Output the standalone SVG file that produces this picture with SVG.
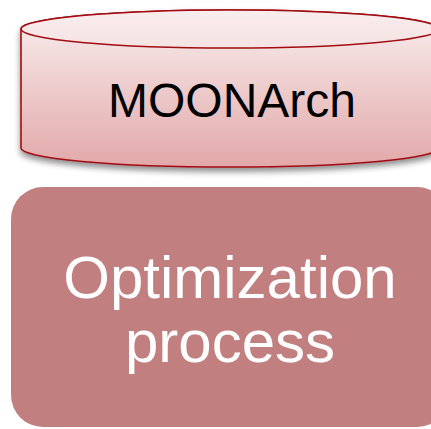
<svg xmlns="http://www.w3.org/2000/svg" width="431" height="429" viewBox="0 0 431 429">
<defs>
<linearGradient id="body" x1="0" y1="0" x2="0" y2="1">
<stop offset="0" stop-color="#f9efef"/>
<stop offset="1" stop-color="#e2a8a9"/>
</linearGradient>
<linearGradient id="top" x1="0" y1="0" x2="0" y2="1">
<stop offset="0" stop-color="#f9eded"/>
<stop offset="1" stop-color="#f5e3e3"/>
</linearGradient>
<filter id="shadow" x="-10%" y="-10%" width="120%" height="140%">
<feGaussianBlur in="SourceAlpha" stdDeviation="3"/>
<feOffset dx="0" dy="4" result="b"/>
<feComponentTransfer><feFuncA type="linear" slope="0.45"/></feComponentTransfer>
<feMerge><feMergeNode/><feMergeNode in="SourceGraphic"/></feMerge>
</filter>
</defs>
<style>
.cyl{stroke:#a00d12;stroke-width:1.6}
.t1{font-family:"Liberation Sans",Arial,sans-serif;font-size:48px;fill:#000;text-anchor:middle}
.t2{font-family:"Liberation Sans",Arial,sans-serif;font-size:60px;fill:#fff;text-anchor:middle}
</style>
<g id="moonarch">
<path class="cyl" filter="url(#shadow)" fill="url(#body)" d="M21,29 L21,148 A209,19 0 0 0 439,148 L439,29 A209,19 0 0 0 21,29 Z"/>
<ellipse class="cyl" cx="230" cy="29" rx="209" ry="19" fill="url(#top)"/>
<text class="t1" x="232" y="117">MOONArch</text>
</g>
<g id="optimization">
<rect x="11" y="187" width="438" height="240" rx="32" ry="32" fill="#c27f80"/>
<text class="t2" x="230" y="298">Optimization</text>
<text class="t2" x="230" y="362">process</text>
</g>
<g id="connectors"/>
</svg>
